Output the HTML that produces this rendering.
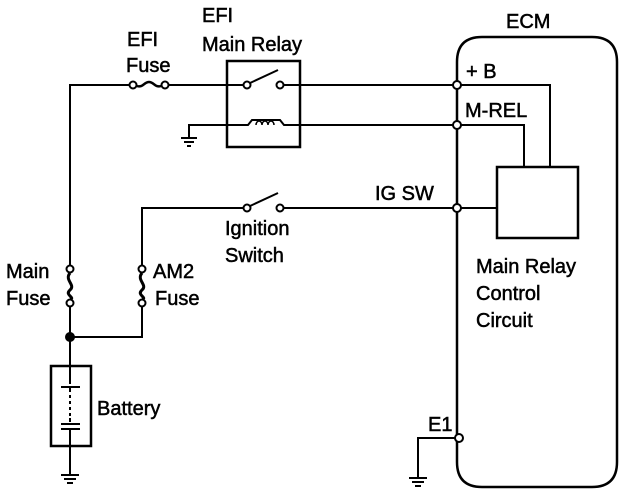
<!DOCTYPE html>
<html><head><meta charset="utf-8"><style>
html,body{margin:0;padding:0;background:#fff;}
svg{display:block;}
text{font-family:"Liberation Sans",sans-serif;font-size:20px;fill:#000;stroke:#000;stroke-width:0.5;}
</style></head><body>
<svg width="640" height="496" viewBox="0 0 640 496" xmlns="http://www.w3.org/2000/svg" stroke="#000" fill="none" stroke-width="2">
<path d="M70 266 V85 H130"/>
<path d="M168 85 H243"/>
<path d="M284 85 H453"/>
<circle cx="133" cy="85" r="3.5" fill="#fff"/>
<circle cx="165" cy="85" r="3.5" fill="#fff"/>
<path d="M137 86 C143 88 144 82 149 82 C154 82 155 88 161 86" stroke-width="2.5"/>
<rect x="227" y="61" width="73" height="86" stroke-width="2.5"/>
<circle cx="247" cy="85" r="3.5" fill="#fff"/>
<circle cx="280" cy="85" r="3.5" fill="#fff"/>
<path d="M250 83 L278 70"/>
<path d="M189 138 V125 H248 L252 120 H280 L284 125 H453" />
<path d="M256 125 a3 4 0 1 1 6 0 a3 4 0 1 1 6 0 a3 4 0 1 1 6 0" stroke-width="1.5"/>
<path d="M181 138 H197 M184 142 H194 M187 146 H191"/>
<path d="M142 266 V208 H244"/>
<circle cx="247" cy="208" r="3.5" fill="#fff"/>
<circle cx="280" cy="208" r="3.5" fill="#fff"/>
<path d="M250 206 L278 193"/>
<path d="M284 208 H453"/>
<circle cx="70" cy="269" r="3.5" fill="#fff"/>
<circle cx="70" cy="303" r="3.5" fill="#fff"/>
<path d="M70 273 C64 280 76 285 70 290 C64 295 76 298 70 299" stroke-width="3"/>
<path d="M70 307 V366"/>
<circle cx="142" cy="269" r="3.5" fill="#fff"/>
<circle cx="142" cy="303" r="3.5" fill="#fff"/>
<path d="M142 273 C136 280 148 285 142 290 C136 295 148 298 142 299" stroke-width="3"/>
<path d="M142 307 V337 H70"/>
<circle cx="70" cy="337" r="4" fill="#000"/>
<rect x="51" y="366" width="40" height="80" stroke-width="2.5"/>
<path d="M70 366 V384 M61 387 H80 M70 387 V422" />
<path d="M70 392 V418" stroke="#fff" stroke-dasharray="3 3"/>
<path d="M61 424 H80 M70 428 V446 V475"/>
<path d="M61 429 H80"/>
<path d="M61 475 H79 M64 479 H76 M67 483 H73"/>
<path d="M457 62 Q457 37 482 37 H592 Q617 37 617 62 V462 Q617 487 592 487 H482 Q457 487 457 462 Z" stroke-width="2.5"/>
<circle cx="457" cy="85" r="4" fill="#fff"/>
<circle cx="457" cy="125" r="4" fill="#fff"/>
<circle cx="457" cy="208" r="4" fill="#fff"/>
<circle cx="459" cy="438" r="4" fill="#fff"/>
<path d="M461 85 H550 V167"/>
<path d="M461 125 H524 V167"/>
<path d="M461 208 H497"/>
<rect x="497" y="167" width="81" height="71" stroke-width="2.5"/>
<path d="M455 438 H418 V478"/>
<path d="M409 478 H427 M412 482 H424 M415 486 H421"/>
</svg>
<svg width="640" height="496" style="position:absolute;left:0;top:0" xmlns="http://www.w3.org/2000/svg">
<text x="127" y="46">EFI</text>
<text x="126" y="72">Fuse</text>
<text x="202" y="22">EFI</text>
<text x="202" y="51">Main Relay</text>
<text x="506" y="28">ECM</text>
<text x="466" y="78">+ B</text>
<text x="465" y="117">M-REL</text>
<text x="375" y="200">IG SW</text>
<text x="225" y="235">Ignition</text>
<text x="225" y="262">Switch</text>
<text x="6" y="278">Main</text>
<text x="6" y="305">Fuse</text>
<text x="153" y="278">AM2</text>
<text x="155" y="305">Fuse</text>
<text x="97" y="415">Battery</text>
<text x="476" y="273">Main Relay</text>
<text x="476" y="300">Control</text>
<text x="476" y="327">Circuit</text>
<text x="428" y="431">E1</text>
</svg>
</body></html>
